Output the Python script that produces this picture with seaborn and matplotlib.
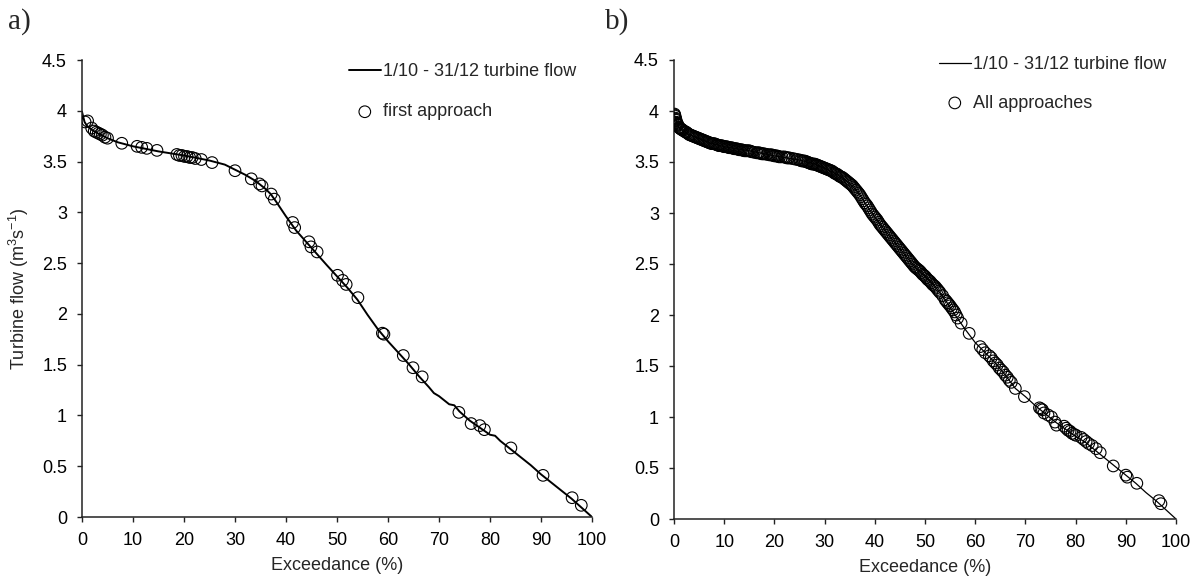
#!/usr/bin/env python3
"""
Flow duration curves (1/10 - 31/12 turbine flow) with the sampled points
from the first approach (a) and from all approaches (b).
"""

import matplotlib
matplotlib.use("Agg")
import matplotlib.pyplot as plt
from matplotlib.ticker import FuncFormatter, MultipleLocator
import pandas as pd
import seaborn as sns


# ---- data -------------------------------------------------------------
curve_a_x = [0, 0.5, 1, 2, 3, 5, 7, 10, 15, 20, 25, 28, 30, 32, 34, 36, 37,
             38, 40, 42, 45, 48, 50, 52, 54, 56, 58, 60, 62, 64, 66, 68, 69,
             70, 72, 73, 74, 76, 78, 80, 81, 82, 84, 86, 88, 90, 92, 94, 96,
             98, 100]
curve_a_y = [3.99, 3.89, 3.85, 3.81, 3.78, 3.73, 3.69, 3.65, 3.60, 3.56, 3.51,
             3.47, 3.42, 3.37, 3.31, 3.23, 3.18, 3.11, 2.96, 2.82, 2.65, 2.48,
             2.37, 2.26, 2.14, 1.99, 1.85, 1.73, 1.62, 1.51, 1.39, 1.28, 1.22,
             1.19, 1.11, 1.10, 1.04, 0.95, 0.88, 0.81, 0.80, 0.75, 0.67, 0.59,
             0.51, 0.42, 0.34, 0.26, 0.18, 0.09, 0.0]

first_x = [0.6, 1.1, 1.9, 2.4, 2.8, 3.2, 3.6, 4.0, 4.5, 5.0, 7.8, 10.8, 11.7,
           12.7, 14.7, 18.6, 19.1, 19.6, 20.1, 20.6, 21.1, 21.6, 22.2, 23.4,
           25.5, 30.0, 33.2, 34.8, 35.3, 37.1, 37.7, 41.3, 41.7, 44.5, 44.9,
           46.1, 50.1, 51.1, 51.8, 54.1, 58.9, 59.2, 63.0, 64.9, 66.7, 73.9,
           76.3, 78.0, 78.9, 84.1, 90.4, 96.1, 97.9]
first_y = [3.89, 3.90, 3.83, 3.80, 3.79, 3.78, 3.77, 3.76, 3.74, 3.73, 3.68,
           3.65, 3.64, 3.63, 3.61, 3.57, 3.56, 3.56, 3.55, 3.55, 3.54, 3.54,
           3.53, 3.52, 3.49, 3.41, 3.33, 3.28, 3.26, 3.18, 3.13, 2.90, 2.85,
           2.71, 2.66, 2.61, 2.38, 2.33, 2.29, 2.16, 1.81, 1.80, 1.59, 1.47,
           1.38, 1.03, 0.92, 0.90, 0.86, 0.68, 0.41, 0.19, 0.115]

curve_b_x = [0, 0.5, 1, 2, 3, 5, 7, 10, 15, 20, 25, 28, 30, 32, 34, 36, 37,
             38, 39, 40, 42, 45, 48, 50, 52, 54, 56, 58, 60, 62, 64, 66, 68,
             70, 72, 74, 76, 78, 80, 82, 84, 86, 88, 90, 92, 94, 96, 98, 100]
curve_b_y = [3.98, 3.89, 3.84, 3.80, 3.77, 3.73, 3.69, 3.65, 3.61, 3.56, 3.52,
             3.48, 3.44, 3.39, 3.33, 3.24, 3.18, 3.10, 3.03, 2.96, 2.83, 2.65,
             2.47, 2.38, 2.28, 2.15, 2.00, 1.86, 1.73, 1.63, 1.53, 1.41, 1.28,
             1.20, 1.11, 1.03, 0.95, 0.88, 0.81, 0.75, 0.67, 0.59, 0.51, 0.43,
             0.35, 0.26, 0.18, 0.09, 0.0]

# all approaches, sparse part plus the clusters below 2 m3/s
all_x = [0.1, 0.2, 0.3, 0.4, 0.5, 0.6, 0.8, 1.0, 1.2, 1.5, 1.8, 2.1, 2.5, 3.0,
         3.5, 4.0, 4.5, 5.0, 5.5, 6.0, 6.5, 7.0, 7.5, 8.0, 8.5, 9.0, 9.5, 10.0,
         10.5, 11.0, 11.5, 12.0, 12.5, 13.0, 13.5, 14.0, 14.5, 15.0, 15.5,
         16.5, 17.0, 17.5, 18.0, 19.0, 19.5, 20.0, 20.5, 21.0, 22.0, 22.5,
         23.0, 24.0, 25.0, 25.5, 26.0, 26.5, 27.0, 27.5, 28.0, 28.5, 29.0,
         29.5, 30.0, 30.5, 31.0, 31.5, 32.0, 32.5, 33.0, 33.5, 34.0, 34.5,
         35.0, 35.5, 36.0, 36.5, 37.0, 37.5, 38.0, 38.5, 39.0, 39.5, 40.0,
         40.5, 41.0, 41.5, 42.0, 42.5, 43.0, 43.5, 44.0, 44.5, 45.0, 45.5,
         46.0, 46.5, 47.0, 47.5, 48.0, 48.5, 49.0, 49.5, 50.0, 50.5, 51.0,
         51.5, 52.0, 52.5, 53.0, 54.0, 54.5, 55.0, 55.3, 55.6, 55.9, 56.2,
         56.5, 57.2, 58.8, 61.0, 61.5, 62.0, 62.8, 63.2, 63.6, 64.0, 64.4,
         64.8, 65.2, 65.6, 66.0, 66.4, 66.8, 67.2, 68.0, 69.8, 72.8, 73.1,
         73.4, 73.7, 74.5, 75.2, 75.9, 76.2, 77.7, 78.1, 78.5, 78.9, 79.3,
         79.7, 80.1, 81.1, 81.6, 82.1, 82.6, 83.3, 84.1, 84.9, 87.5, 90.0,
         90.3, 92.2, 96.6, 97.0]
all_y = [3.97, 3.95, 3.93, 3.91, 3.89, 3.88, 3.86, 3.84, 3.83, 3.82, 3.81,
         3.80, 3.79, 3.77, 3.76, 3.75, 3.74, 3.73, 3.72, 3.71, 3.70, 3.69,
         3.68, 3.68, 3.67, 3.66, 3.66, 3.65, 3.65, 3.64, 3.64, 3.63, 3.63,
         3.62, 3.62, 3.61, 3.61, 3.61, 3.60, 3.59, 3.59, 3.58, 3.58, 3.57,
         3.57, 3.56, 3.56, 3.55, 3.55, 3.54, 3.54, 3.53, 3.52, 3.51, 3.51,
         3.50, 3.49, 3.48, 3.48, 3.47, 3.46, 3.45, 3.44, 3.43, 3.42, 3.41,
         3.39, 3.38, 3.36, 3.35, 3.33, 3.31, 3.29, 3.27, 3.24, 3.21, 3.18,
         3.14, 3.10, 3.07, 3.03, 2.99, 2.96, 2.93, 2.89, 2.86, 2.83, 2.80,
         2.77, 2.74, 2.71, 2.68, 2.65, 2.62, 2.59, 2.56, 2.53, 2.50, 2.47,
         2.45, 2.43, 2.40, 2.38, 2.35, 2.33, 2.30, 2.28, 2.25, 2.22, 2.15,
         2.12, 2.09, 2.07, 2.05, 2.03, 2.00, 1.97, 1.92, 1.82, 1.69, 1.66,
         1.63, 1.60, 1.58, 1.55, 1.53, 1.51, 1.48, 1.46, 1.44, 1.41, 1.39,
         1.36, 1.34, 1.28, 1.20, 1.09, 1.08, 1.07, 1.04, 1.02, 1.00, 0.95,
         0.92, 0.91, 0.89, 0.87, 0.86, 0.84, 0.83, 0.82, 0.80, 0.78, 0.76,
         0.74, 0.72, 0.69, 0.65, 0.52, 0.43, 0.41, 0.35, 0.18, 0.15]

# all approaches, extra points in the dense band above 2 m3/s
dense_x = [0.15, 0.35, 0.7, 1.1, 1.35, 1.65, 2.3, 2.75, 3.25, 3.75, 4.25,
           4.75, 5.25, 5.75, 6.25, 6.75, 7.25, 7.75, 8.25, 8.75, 9.25, 9.75,
           10.25, 10.75, 11.25, 11.75, 12.25, 12.75, 13.25, 13.75, 14.25,
           14.75, 15.25, 16.0, 16.75, 17.25, 17.75, 18.5, 19.25, 19.75, 20.25,
           20.75, 21.5, 22.25, 22.75, 23.5, 24.5, 25.25, 25.75, 26.25, 26.75,
           27.25, 27.75, 28.25, 28.75, 29.25, 29.75, 30.25, 30.75, 31.25,
           31.75, 32.25, 32.75, 33.25, 33.75, 34.25, 34.75, 35.25, 35.75,
           36.25, 36.75, 37.25, 37.75, 38.25, 38.75, 39.25, 39.75, 40.25,
           40.75, 41.25, 41.75, 42.25, 42.75, 43.25, 43.75, 44.25, 44.75,
           45.25, 45.75, 46.25, 46.75, 47.25, 47.75, 48.25, 48.75, 49.25,
           49.75, 50.25, 50.75, 51.25, 51.75, 52.25, 52.75, 53.5, 54.25,
           54.75]
dense_y = [3.96, 3.92, 3.87, 3.835, 3.825, 3.815, 3.795, 3.78, 3.765, 3.755,
           3.745, 3.735, 3.725, 3.715, 3.705, 3.695, 3.685, 3.68, 3.675, 3.665,
           3.66, 3.655, 3.65, 3.645, 3.64, 3.635, 3.63, 3.625, 3.62, 3.615,
           3.61, 3.61, 3.605, 3.595, 3.59, 3.585, 3.58, 3.575, 3.57, 3.565,
           3.56, 3.555, 3.55, 3.545, 3.54, 3.535, 3.525, 3.515, 3.51, 3.505,
           3.495, 3.485, 3.48, 3.475, 3.465, 3.455, 3.445, 3.435, 3.425,
           3.415, 3.40, 3.385, 3.37, 3.355, 3.34, 3.32, 3.30, 3.28, 3.255,
           3.225, 3.195, 3.16, 3.12, 3.085, 3.05, 3.01, 2.975, 2.945, 2.91,
           2.875, 2.845, 2.815, 2.785, 2.755, 2.725, 2.695, 2.665, 2.635,
           2.605, 2.575, 2.545, 2.515, 2.485, 2.46, 2.44, 2.415, 2.39, 2.365,
           2.34, 2.315, 2.29, 2.265, 2.235, 2.19, 2.135, 2.105]

line_label = "1/10 - 31/12 turbine flow"
ylabel = r"Turbine flow (m$^{3}$s$^{-1}$)"
xlabel = "Exceedance (%)"

# ---- style ------------------------------------------------------------
sns.set_style("ticks")
plt.rcParams["font.family"] = ["Liberation Sans", "DejaVu Sans"]
plt.rcParams["mathtext.fontset"] = "custom"
plt.rcParams["mathtext.rm"] = "Liberation Sans"
plt.rcParams["mathtext.it"] = "Liberation Sans:italic"
plt.rcParams["mathtext.bf"] = "Liberation Sans:bold"

FS = 13
DARK = "#222222"

fig = plt.figure(figsize=(12, 5.81), dpi=100)
ax_a = fig.add_axes([82 / 1200, 1 - 517 / 581, 510 / 1200, 457 / 581])
ax_b = fig.add_axes([674 / 1200, 1 - 519 / 581, 502 / 1200, 459 / 581])


def style_axis(ax):
    ax.set_xlim(0, 100)
    ax.set_ylim(0, 4.5)
    ax.xaxis.set_major_locator(MultipleLocator(10))
    ax.yaxis.set_major_locator(MultipleLocator(0.5))
    ax.yaxis.set_major_formatter(FuncFormatter(lambda v, p: f"{v:g}"))
    ax.tick_params(direction="out", length=3.8, width=1.0, color=DARK,
                   labelsize=FS, pad=7, labelcolor="black")
    for side in ["top", "right"]:
        ax.spines[side].set_visible(False)
    for side in ["left", "bottom"]:
        ax.spines[side].set_linewidth(1.1)
        ax.spines[side].set_color(DARK)
    ax.set_xlabel(xlabel, fontsize=FS, labelpad=6)


# ---- panel a ----------------------------------------------------------
df_a = pd.DataFrame({"x": curve_a_x, "y": curve_a_y})
pts_a = pd.DataFrame({"x": first_x, "y": first_y})
sns.lineplot(data=df_a, x="x", y="y", ax=ax_a, color="black", linewidth=1.4,
             label=line_label)
sns.scatterplot(data=pts_a, x="x", y="y", ax=ax_a, marker="o", s=70,
                facecolor="none", edgecolor="black", linewidth=0.8,
                label="first approach", zorder=3)
style_axis(ax_a)
ax_a.set_ylabel(ylabel, fontsize=FS, labelpad=8)
ax_a.legend(loc="upper left", bbox_to_anchor=(349 / 1200, 1 - 63 / 581),
            bbox_transform=fig.transFigure, frameon=False, fontsize=FS,
            handlelength=1.75, handletextpad=0.15, labelspacing=1.3,
            borderpad=0, borderaxespad=0)

# ---- panel b ----------------------------------------------------------
df_b = pd.DataFrame({"x": curve_b_x, "y": curve_b_y})
pts_b = pd.DataFrame({"x": all_x + dense_x, "y": all_y + dense_y})
sns.lineplot(data=df_b, x="x", y="y", ax=ax_b, color="black", linewidth=0.9,
             label=line_label)
sns.scatterplot(data=pts_b, x="x", y="y", ax=ax_b, marker="o", s=70,
                facecolor="none", edgecolor="black", linewidth=0.8,
                label="All approaches", zorder=3)
style_axis(ax_b)
ax_b.set_ylabel("")
ax_b.legend(loc="upper left", bbox_to_anchor=(939 / 1200, 1 - 56 / 581),
            bbox_transform=fig.transFigure, frameon=False, fontsize=FS,
            handlelength=1.75, handletextpad=0.15, labelspacing=1.2,
            borderpad=0, borderaxespad=0)

# panel letters
fig.text(8 / 1200, 1 - 29 / 581, "a)", fontsize=21, va="baseline",
         family=["Liberation Serif", "DejaVu Serif"])
fig.text(605 / 1200, 1 - 29 / 581, "b)", fontsize=21, va="baseline",
         family=["Liberation Serif", "DejaVu Serif"])

fig.savefig("out.png", dpi=100)
plt.close(fig)
